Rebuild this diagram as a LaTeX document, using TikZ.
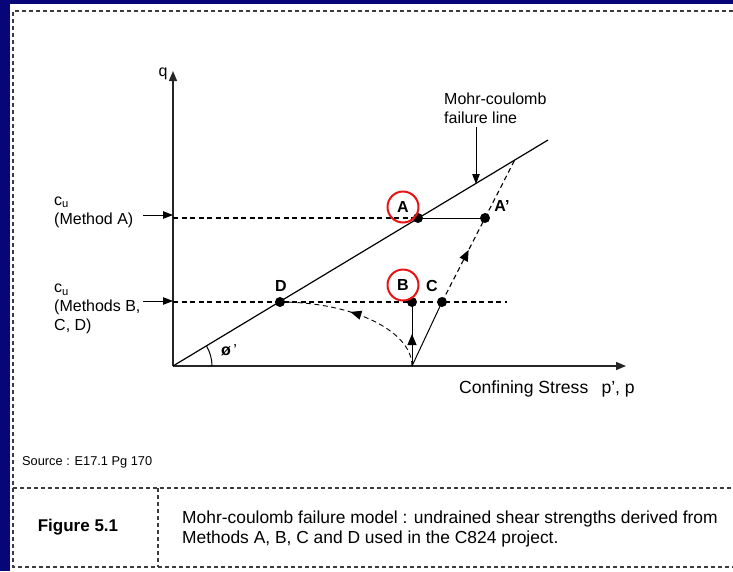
\documentclass[tikz,border=0pt]{standalone}
\usepackage{fontspec}
\setmainfont{Liberation Sans}
\usetikzlibrary{arrows.meta,decorations.markings,calc}
\definecolor{navybg}{RGB}{6,6,120}
\definecolor{bord}{RGB}{60,60,60}
\definecolor{ringred}{RGB}{230,20,20}
\begin{document}
\begin{tikzpicture}[x=1pt,y=-1pt,
  lbl/.style={font=\fontsize{16}{19}\selectfont, inner sep=0pt, align=left},
  bold/.style={font=\fontsize{16}{19}\selectfont\bfseries, inner sep=0pt},
  frame/.style={draw=bord, line width=1.3pt, dash pattern=on 4pt off 3pt},
  axis/.style={draw=black!85, line width=1.4pt, -{Triangle[length=10pt,width=8pt]}},
  solidl/.style={draw=black, line width=1pt},
  dashl/.style={draw=black, line width=1.1pt, dash pattern=on 5pt off 3.5pt},
  dot/.style={circle, fill=black, inner sep=0pt, minimum size=10pt},
  ring/.style={circle, draw=ringred, line width=2pt, minimum size=31pt, inner sep=0pt, font=\fontsize{16}{19}\selectfont\bfseries},
  midarrow/.style={postaction={decorate}, decoration={markings, mark=at position #1 with {\arrow[solid]{Triangle[length=11pt,width=9pt]}}}},
  ptr/.style={draw=black, line width=0.9pt, -{Triangle[length=10pt,width=7.5pt]}}
]
\useasboundingbox (0,0) rectangle (733,571);
% background and panel
\fill[navybg] (0,0) rectangle (733,571);
\fill[white] (10,4) rectangle (733,571);
\draw[frame] (733,11) -- (13,11) -- (13,567) -- (733,567);
\draw[frame] (13,488) -- (733,488);
\draw[frame] (158,488) -- (158,567);

% axes
\coordinate (O) at (173,366);
\coordinate (qtop) at (173,71);
\coordinate (pend) at (626,366);
\draw[axis] (O) -- (qtop);
\draw[axis] (O) -- (pend);
\node[lbl] (qlab) at (163,74) {q};
\node[lbl, font=\fontsize{17.6}{19}\selectfont] (plab) at (547,389) {Confining Stress\hspace{0.75em}p’, p};

% failure line
\coordinate (FE) at (548,140);
\draw[solidl, line width=1.2pt] (O) -- (FE);
\draw[black, line width=1pt] (O) ++(39,0) arc[start angle=0, end angle=-31, radius=39];
\node[lbl] (phi) at (229,350) {\textbf{ø}\,’};

% points
\coordinate (yA) at (173,218);
\coordinate (yB) at (173,302);
\coordinate (P) at (412,366);
\node[dot] (A) at (418,218) {};
\node[dot] (Ap) at (485,218) {};
\node[dot] (D) at (280,302) {};
\node[dot] (B) at (412,302) {};
\node[dot] (C) at (442,302) {};
\coordinate (Bend) at (507,302);
\coordinate (Ext) at (intersection of C--Ap and O--FE);

% dashed levels
\draw[dashl] (yA) -- (A.center);
\draw[solidl] (A.center) -- (Ap.center);
\draw[dashl] (yB) -- (Bend);

% stress paths
\draw[solidl, midarrow=0.5] (P) -- (B.center);
\draw[solidl] (P) -- (C.center);
\draw[dashl, midarrow=0.62] (C.center) -- (Ap.center);
\draw[dashl] (Ap.center) -- (Ext);
\draw[dashl, line width=0.9pt, midarrow=0.55] (P) .. controls (412,331) and (353,302) .. (D.center);

% labels of points
\node[ring] (rA) at (403,207) {A};
\node[ring] (rB) at (403,285) {B};
\node[bold] (lC) at (432,286) {C};
\node[bold] (lD) at (281,286) {D};
\node[bold] (lAp) at (502,206) {A’};

% failure line label
\node[lbl, anchor=west] (mc) at (444,108.5) {Mohr-coulomb\\failure line};
\coordinate (mcs) at (476,127);
\coordinate (mce) at (476,184);
\draw[ptr] (mcs) -- (mce);

% cu labels
\node[lbl, anchor=west] (cuA) at (54,212) {c\textsubscript{u}\\(Method A)};
\node[lbl, anchor=west] (cuB) at (54,309) {c\textsubscript{u}\\(Methods B,\\C, D)};
\coordinate (aAs) at (143,215);
\coordinate (aAe) at (173,215);
\coordinate (aBs) at (143,301);
\coordinate (aBe) at (173,301);
\draw[ptr] (aAs) -- (aAe);
\draw[ptr] (aBs) -- (aBe);

% source and caption
\node[inner sep=0pt, anchor=west, font=\fontsize{12.8}{15}\selectfont] (src) at (22,462) {Source : E17.1 Pg 170};
\node[inner sep=0pt, font=\fontsize{17}{20}\selectfont\bfseries] (fig) at (78,527) {Figure 5.1};
\node[lbl, anchor=west, font=\fontsize{17.4}{20}\selectfont] (cap) at (182,529) {Mohr-coulomb failure model : undrained shear strengths derived from\\Methods A, B, C and D used in the C824 project.};
\end{tikzpicture}
\end{document}
